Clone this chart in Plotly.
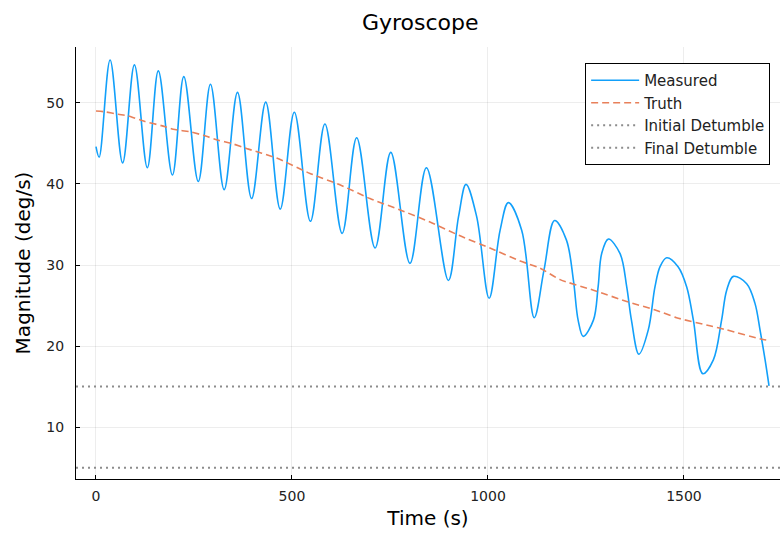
import plotly.graph_objects as go

# ---- data ----
meas_t = [0, 8, 36, 68, 98, 131, 159, 195, 224, 261, 292, 327, 361, 397, 433, 470,
          506, 547, 584, 628, 665, 712, 752, 801, 843, 899, 925, 944, 971, 1003,
          1031, 1052, 1086, 1118, 1143, 1170, 1200, 1218, 1230, 1243, 1269, 1281,
          1290, 1307, 1337, 1354, 1366, 1385, 1409, 1426, 1439, 1456, 1485, 1507,
          1524, 1548, 1575, 1596, 1609, 1626, 1660, 1681, 1694, 1707, 1717]
meas_v = [44.6, 43.3, 55.3, 42.6, 54.7, 42.0, 53.95, 41.1, 53.25, 40.3, 52.3, 39.3,
          51.3, 38.2, 50.1, 36.9, 48.85, 35.4, 47.4, 33.9, 45.7, 32.1, 43.9, 30.2,
          42.0, 28.1, 36.0, 39.95, 36.0, 25.9, 34.3, 37.7, 34.3, 23.5, 29.4, 35.5,
          33.1, 28.1, 23.2, 21.2, 23.2, 27.3, 31.4, 33.2, 31.4, 27.3, 23.2, 19.0,
          22.0, 27.3, 29.8, 30.9, 29.8, 27.3, 23.2, 16.6, 18.3, 23.2, 26.9, 28.6,
          27.7, 25.3, 22.0, 18.3, 15.1]

truth_t = [0, 23, 57, 82, 125, 167, 197, 244, 274, 312, 346, 389, 423, 461, 546,
           622, 699, 776, 852, 929, 1005, 1082, 1133, 1184, 1269, 1354, 1430, 1481,
           1566, 1609, 1702, 1717]
truth_v = [49.0, 48.9, 48.6, 48.4, 47.7, 47.2, 46.75, 46.4, 46.0, 45.4, 45.0, 44.3,
           43.8, 43.2, 41.3, 39.9, 38.2, 36.8, 35.3, 33.6, 32.1, 30.5, 29.6, 28.2,
           26.9, 25.5, 24.4, 23.5, 22.5, 22.0, 20.8, 20.7]

detumble_names = ["Initial Detumble", "Final Detumble"]
detumble_levels = [15, 5]

x_ticks = [0, 500, 1000, 1500]
y_ticks = [10, 20, 30, 40, 50]
x_range = [-51, 1745]
y_range = [3.6, 56.9]

FONT = "DejaVu Sans"

fig = go.Figure()
fig.add_trace(go.Scatter(x=meas_t, y=meas_v, mode="lines", name="Measured",
                         line=dict(color="#12A0FA", width=1.6, shape="spline", smoothing=1.0)))
fig.add_trace(go.Scatter(x=truth_t, y=truth_v, mode="lines", name="Truth",
                         line=dict(color="#E8805A", width=1.6, dash="7px,4px",
                                   shape="spline", smoothing=0.6)))
for name, lvl in zip(detumble_names, detumble_levels):
    fig.add_trace(go.Scatter(x=x_range, y=[lvl, lvl], mode="lines", name=name,
                             line=dict(color="#8c8c8c", width=2, dash="2px,4px")))

axis_common = dict(
    showline=True, linecolor="black", linewidth=1.2, mirror=False,
    showgrid=True, gridcolor="rgba(0,0,0,0.07)", gridwidth=1,
    zeroline=False, ticks="inside", ticklen=4, tickcolor="black",
    tickfont=dict(family=FONT, size=14, color="#222222"),
)

fig.update_layout(
    width=780, height=535,
    margin=dict(l=76, r=0, t=47, b=56),
    paper_bgcolor="white", plot_bgcolor="white",
    title=dict(text="Gyroscope", x=0.489, xref="paper", xanchor="center",
               y=1 - 22 / 535, yref="container", yanchor="middle",
               font=dict(family=FONT, size=22, color="black")),
    xaxis=dict(range=x_range, tickvals=x_ticks, ticklabelstandoff=4,
               title=dict(text="Time (s)", font=dict(family=FONT, size=20, color="black"), standoff=8),
               **axis_common),
    yaxis=dict(range=y_range, tickvals=y_ticks, ticklabelstandoff=8,
               title=dict(text="Magnitude (deg/s)", font=dict(family=FONT, size=20, color="black"), standoff=10),
               **axis_common),
    legend=dict(x=0.986, y=0.963, xanchor="right", yanchor="top",
                bgcolor="white", bordercolor="black", borderwidth=1,
                font=dict(family=FONT, size=15, color="#222222"),
                itemwidth=48, tracegroupgap=0),
    showlegend=True,
)

fig.write_html("out.html")
